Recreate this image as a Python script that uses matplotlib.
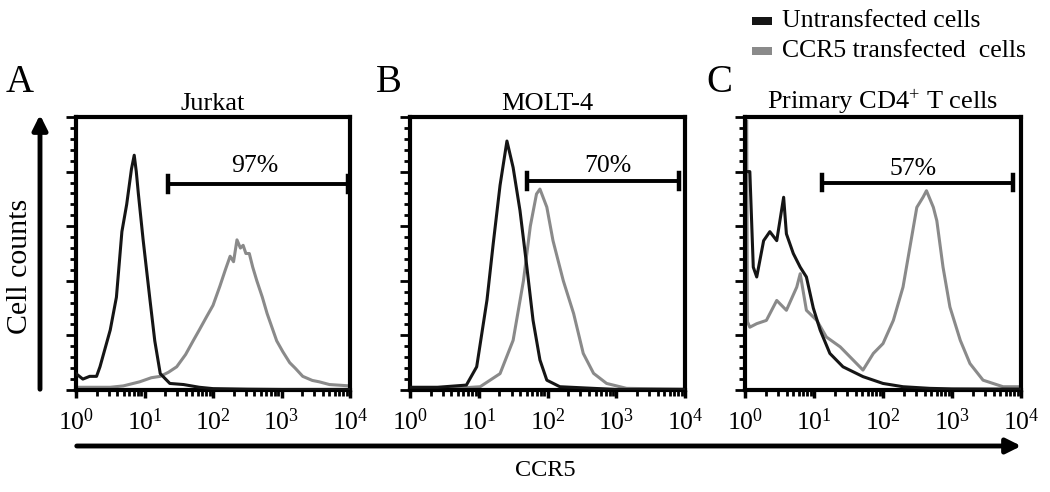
import numpy as np
import matplotlib
matplotlib.use("Agg")
import matplotlib.pyplot as plt
from matplotlib.ticker import FixedLocator, MultipleLocator, NullFormatter
from matplotlib.patches import Rectangle

plt.rcParams['font.family'] = ['Liberation Serif', 'DejaVu Serif']
plt.rcParams['mathtext.fontset'] = 'custom'
plt.rcParams['mathtext.rm'] = 'Liberation Serif'
plt.rcParams['mathtext.it'] = 'Liberation Serif:italic'

# ---------------- data (x in log10 decades of CCR5 fluorescence, y = relative cell counts) -------------
panel_letters = ["A", "B", "C"]
panel_titles = ["Jurkat", "MOLT-4", "Primary CD4$^{+}$ T cells"]
series_names = ["Untransfected cells", "CCR5 transfected  cells"]

a_unt_dec = [0.0, 0.1, 0.2, 0.3, 0.35, 0.5, 0.59, 0.67, 0.74, 0.81, 0.85, 0.88, 0.91, 0.98, 1.08, 1.15, 1.23, 1.37,
             1.57, 1.8, 2.0, 2.5, 3.0, 4.0]
a_unt_y = [0.06, 0.04, 0.05, 0.05, 0.085, 0.22, 0.34, 0.58, 0.68, 0.81, 0.86, 0.8, 0.72, 0.55, 0.33, 0.18, 0.06, 0.024,
           0.02, 0.01, 0.005, 0.003, 0.002, 0.002]
a_trn_dec = [0.0, 0.5, 0.69, 0.93, 1.1, 1.23, 1.35, 1.47, 1.6, 1.71, 1.8, 1.91, 2.0, 2.1, 2.18, 2.25, 2.3, 2.35, 2.4,
             2.44, 2.48, 2.53, 2.58, 2.64, 2.72, 2.79, 2.86, 2.93, 3.02, 3.12, 3.2, 3.31, 3.45, 3.55, 3.7, 4.0]
a_trn_y = [0.01, 0.01, 0.015, 0.03, 0.045, 0.05, 0.065, 0.085, 0.13, 0.18, 0.22, 0.27, 0.31, 0.38, 0.44, 0.49, 0.47,
           0.55, 0.52, 0.53, 0.5, 0.5, 0.45, 0.4, 0.34, 0.28, 0.23, 0.18, 0.14, 0.1, 0.08, 0.05, 0.035, 0.03, 0.02, 0.015]

b_unt_dec = [0.0, 0.4, 0.82, 0.97, 1.12, 1.21, 1.31, 1.41, 1.5, 1.6, 1.7, 1.79, 1.89, 1.99, 2.18, 2.67, 3.0, 4.0]
b_unt_y = [0.01, 0.01, 0.018, 0.085, 0.33, 0.535, 0.75, 0.912, 0.815, 0.657, 0.45, 0.255, 0.11, 0.036, 0.012, 0.006,
           0.002, 0.002]
b_trn_dec = [0.0, 0.6, 1.02, 1.31, 1.5, 1.65, 1.75, 1.84, 1.89, 1.99, 2.08, 2.23, 2.38, 2.52, 2.67, 2.86, 3.15, 4.0]
b_trn_y = [0.005, 0.005, 0.012, 0.06, 0.182, 0.4, 0.6, 0.718, 0.736, 0.67, 0.547, 0.4, 0.28, 0.134, 0.061, 0.024,
           0.006, 0.003]

c_unt_dec = [0.05, 0.07, 0.12, 0.17, 0.27, 0.36, 0.46, 0.56, 0.6, 0.7, 0.8, 0.89, 0.99, 1.09, 1.23, 1.42, 1.71, 2.0,
             2.29, 2.68, 3.0, 4.0]
c_unt_y = [0.8, 0.8, 0.45, 0.414, 0.547, 0.58, 0.547, 0.706, 0.572, 0.5, 0.45, 0.414, 0.3, 0.219, 0.134, 0.085, 0.049,
           0.024, 0.012, 0.006, 0.004, 0.003]
c_trn_dec = [0.025, 0.035, 0.07, 0.17, 0.31, 0.46, 0.6, 0.75, 0.8, 0.89, 1.04, 1.18, 1.38, 1.57, 1.71, 1.86, 2.0, 2.15,
             2.29, 2.39, 2.49, 2.58, 2.63, 2.73, 2.78, 2.87, 2.97, 3.12, 3.26, 3.45, 3.74, 3.99]
c_trn_y = [0.985, 0.25, 0.23, 0.243, 0.255, 0.328, 0.292, 0.377, 0.426, 0.292, 0.255, 0.194, 0.158, 0.109, 0.073,
           0.134, 0.17, 0.255, 0.377, 0.523, 0.669, 0.706, 0.73, 0.669, 0.62, 0.45, 0.304, 0.182, 0.097, 0.036, 0.012,
           0.012]

gate_lo = [22, 50, 13]
gate_hi = [9300, 8200, 7600]
gate_y = [0.755, 0.766, 0.76]
gate_pct = ["97%", "70%", "57%"]
gate_text_x = [410, 760, 270]
gate_text_y = [0.82, 0.82, 0.81]

xtick_values = [1, 10, 100, 1000, 10000]
xtick_labels = ["$10^{0}$", "$10^{1}$", "$10^{2}$", "$10^{3}$", "$10^{4}$"]

curves = [
    ((a_unt_dec, a_unt_y), (a_trn_dec, a_trn_y)),
    ((b_unt_dec, b_unt_y), (b_trn_dec, b_trn_y)),
    ((c_unt_dec, c_unt_y), (c_trn_dec, c_trn_y)),
]

COL_UNT = "#151515"
COL_TRN = "#8a8a8a"

W, H = 1050, 492
fig = plt.figure(figsize=(W / 100, H / 100), dpi=100)

def fx(px):
    return px / W

def fy(py):
    return 1 - py / H

ax_left_px = [76, 410, 745]
ax_width_px = [274, 275, 276]
ax_top_px, ax_bot_px = 117, 390
letter_x_px = [6, 376, 706]

for i in range(3):
    ax = fig.add_axes([fx(ax_left_px[i]), fy(ax_bot_px), ax_width_px[i] / W, (ax_bot_px - ax_top_px) / H])
    (ud, uy), (td, ty) = curves[i]
    ax.plot(10 ** np.array(td), ty, color=COL_TRN, lw=2.2, zorder=2)
    ax.plot(10 ** np.array(ud), uy, color=COL_UNT, lw=2.2, zorder=3)
    ax.set_xscale('log')
    ax.set_xlim(1, 10000)
    ax.set_ylim(0, 1)
    ax.xaxis.set_major_locator(FixedLocator(xtick_values))
    ax.set_xticklabels(xtick_labels, fontsize=18.5)
    ax.xaxis.set_minor_locator(matplotlib.ticker.LogLocator(base=10, subs=np.arange(2, 10)))
    ax.xaxis.set_minor_formatter(NullFormatter())
    ax.yaxis.set_major_locator(MultipleLocator(0.2))
    ax.yaxis.set_minor_locator(MultipleLocator(0.04))
    ax.set_yticklabels([])
    ax.tick_params(axis='x', which='major', direction='out', length=6, width=2.5, pad=7)
    ax.tick_params(axis='x', which='minor', direction='out', length=4, width=2)
    ax.tick_params(axis='y', which='major', direction='out', length=7, width=2)
    ax.tick_params(axis='y', which='minor', direction='out', length=4, width=2)
    for s in ax.spines.values():
        s.set_linewidth(3)
    ax.set_title(panel_titles[i], fontsize=19, pad=5)
    # gate bar
    ax.plot([gate_lo[i], gate_hi[i]], [gate_y[i], gate_y[i]], color='black', lw=2.8, zorder=4)
    for gx in (gate_lo[i], gate_hi[i]):
        ax.plot([gx, gx], [gate_y[i] - 0.028, gate_y[i] + 0.028], color='black', lw=3.2, zorder=4)
    ax.text(gate_text_x[i], gate_text_y[i], gate_pct[i], fontsize=18.5, ha='center', va='center')
    fig.text(fx(letter_x_px[i]), fy(82), panel_letters[i], fontsize=28, ha='left', va='center')

# axis arrows
fig.add_artist(matplotlib.patches.FancyArrowPatch((fx(40), fy(392)), (fx(40), fy(112)),
                                                  transform=fig.transFigure, arrowstyle='-|>',
                                                  mutation_scale=22, lw=3.5, color='black'))
fig.add_artist(matplotlib.patches.FancyArrowPatch((fx(74), fy(446)), (fx(1024), fy(446)),
                                                  transform=fig.transFigure, arrowstyle='-|>',
                                                  mutation_scale=22, lw=3.5, color='black'))
fig.text(fx(20), fy(266), "Cell counts", rotation=90, fontsize=21.5, ha='center', va='center')
fig.text(fx(545), fy(471), "CCR5", fontsize=17.5, ha='center', va='center')

# legend
leg_cols = [COL_UNT, COL_TRN]
leg_y = [21, 51]
for k in range(2):
    fig.add_artist(Rectangle((fx(752), fy(leg_y[k] + 4)), 20 / W, 8 / H, transform=fig.transFigure,
                             color=leg_cols[k], lw=0))
    fig.text(fx(782), fy(leg_y[k]), series_names[k], fontsize=18.5, ha='left', va='center')

fig.savefig("out.png", dpi=100)
